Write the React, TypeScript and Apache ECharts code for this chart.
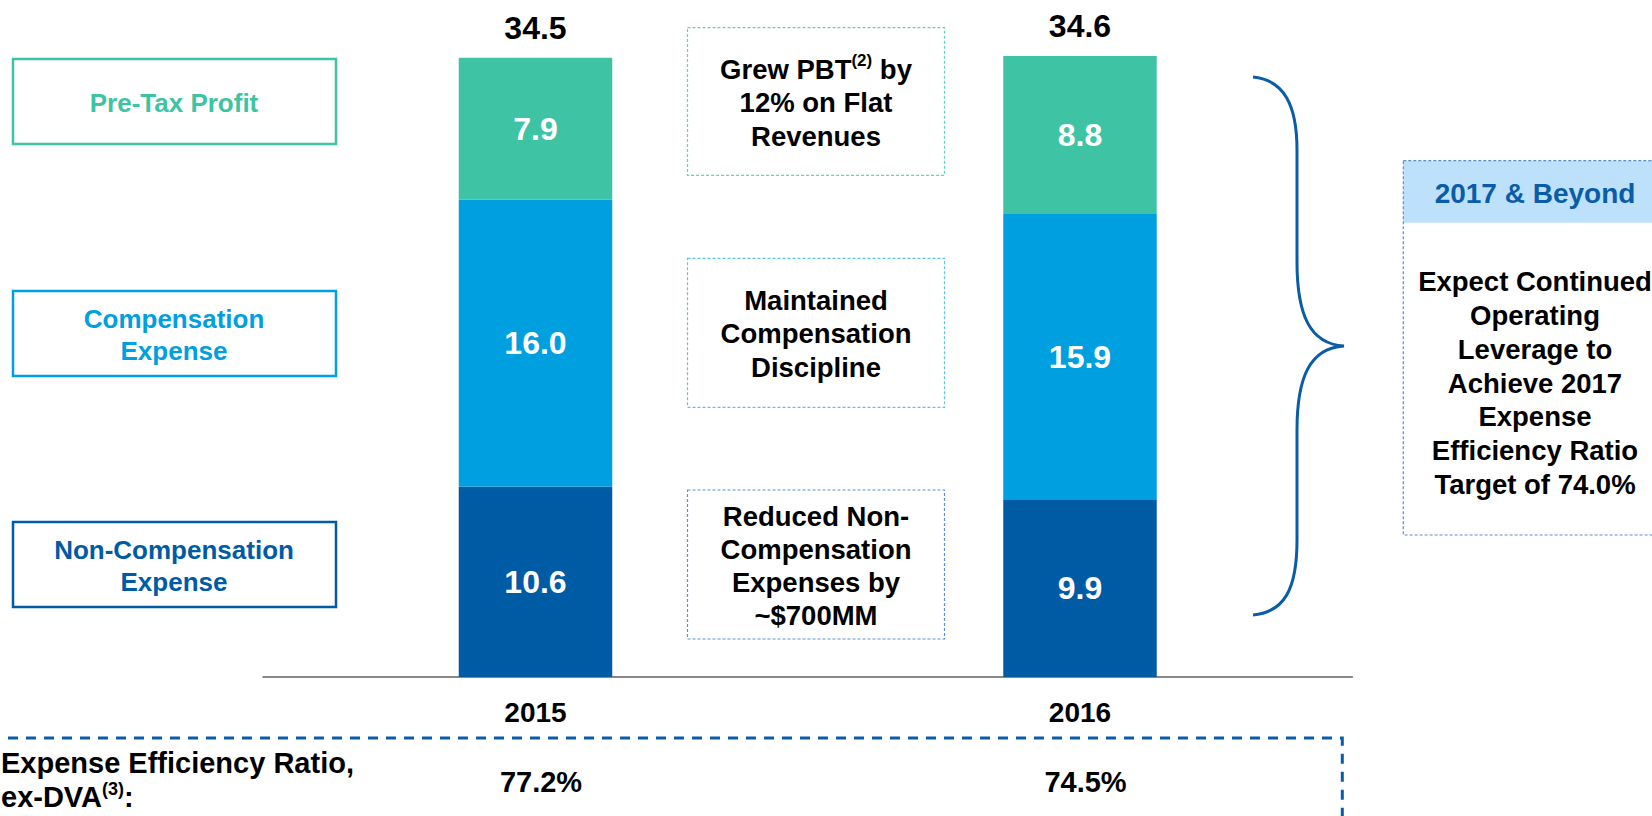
import React, { useEffect, useRef } from "react";
import * as echarts from "echarts";

const categories = ["2015", "2016"];
const nonCompExpense = [10.6, 9.9];
const compExpense = [16.0, 15.9];
const preTaxProfit = [7.9, 8.8];
const totals = [34.5, 34.6];
const efficiencyRatios = ["77.2%", "74.5%"];

const FONT = '"Liberation Sans", Arial, Helvetica, sans-serif';
const GREEN = "#3EC4A4";
const BLUE = "#00A0E0";
const DARK = "#005BA5";

const braceD =
  "M1253,77 C1284,80 1297,105 1297,150 L1297,262 C1297,315 1310,344 1344,346 C1310,348 1297,377 1297,430 L1297,540 C1297,590 1284,612 1253,615";

let registered = false;

export default function App() {
  const ref = useRef<HTMLDivElement>(null);

  useEffect(() => {
    if (!registered) {
      echarts.graphic.registerShape("brace", echarts.graphic.extendPath(braceD, {}));
      registered = true;
    }
    const chart = echarts.init(ref.current!, null, { renderer: "svg" });

    const inLabel = {
      show: true,
      position: "inside",
      color: "#fff",
      fontSize: 32,
      fontWeight: "bold",
      fontFamily: FONT,
      formatter: (p: any) => Number(p.value).toFixed(1),
    };

    const leftBox = (y: number, color: string, text: string) => ({
      type: "group",
      children: [
        {
          type: "rect",
          shape: { x: 13, y, width: 323, height: 85 },
          style: { fill: "#fff", stroke: color, lineWidth: 2.5 },
        },
        {
          type: "text",
          x: 174,
          y: y + 43.5,
          style: {
            text,
            align: "center",
            verticalAlign: "middle",
            fontSize: 26,
            fontWeight: "bold",
            fontFamily: FONT,
            lineHeight: 32,
            fill: color,
          },
        },
      ],
    });

    const midBox = (y: number, h: number, color: string, text: string, lh: number, rich?: any) => ({
      type: "group",
      children: [
        {
          type: "rect",
          shape: { x: 687.5, y, width: 257, height: h },
          style: { fill: "none", stroke: color, lineWidth: 1.2, lineDash: [3, 2] },
        },
        {
          type: "text",
          x: 816,
          y: y + h / 2 + 1,
          style: {
            text,
            align: "center",
            verticalAlign: "middle",
            fontSize: 27.5,
            fontWeight: "bold",
            fontFamily: FONT,
            lineHeight: lh,
            fill: "#000",
            rich,
          },
        },
      ],
    });

    const supStyle = {
      fontSize: 17,
      fontWeight: "bold",
      fontFamily: FONT,
      fill: "#000",
      verticalAlign: "top",
      lineHeight: 26,
    };

    const option: any = {
      animation: false,
      textStyle: { fontFamily: FONT },
      grid: { left: 263.25, width: 1089, top: 30.8, bottom: 139, containLabel: false },
      xAxis: [
        {
          type: "category",
          data: categories,
          axisLine: { lineStyle: { color: "#888", width: 2 } },
          axisTick: { show: false },
          axisLabel: {
            fontSize: 28,
            fontWeight: "bold",
            color: "#000",
            margin: 21,
            lineHeight: 28,
            fontFamily: FONT,
          },
        },
        {
          type: "category",
          data: efficiencyRatios,
          position: "bottom",
          offset: 82,
          axisLine: { show: false },
          axisTick: { show: false },
          axisLabel: {
            fontSize: 29,
            fontWeight: "bold",
            color: "#000",
            margin: 8,
            lineHeight: 29,
            padding: [0, 0, 0, 11],
            fontFamily: FONT,
          },
        },
      ],
      yAxis: { type: "value", min: 0, max: 36, show: false, splitLine: { show: false } },
      series: [
        {
          name: "Non-Compensation Expense",
          type: "bar",
          stack: "total",
          barWidth: 153.5,
          data: nonCompExpense,
          itemStyle: { color: DARK },
          label: inLabel,
        },
        {
          name: "Compensation Expense",
          type: "bar",
          stack: "total",
          barWidth: 153.5,
          data: compExpense,
          itemStyle: { color: BLUE },
          label: inLabel,
        },
        {
          name: "Pre-Tax Profit",
          type: "bar",
          stack: "total",
          barWidth: 153.5,
          data: preTaxProfit,
          itemStyle: { color: GREEN },
          label: inLabel,
        },
        {
          name: "Total",
          type: "bar",
          stack: "total",
          barWidth: 153.5,
          data: totals.map(() => 0),
          itemStyle: { color: "transparent" },
          label: {
            show: true,
            position: "top",
            distance: 14,
            color: "#000",
            fontSize: 32,
            fontWeight: "bold",
            fontFamily: FONT,
            formatter: (p: any) => totals[p.dataIndex].toFixed(1),
          },
        },
      ],
      graphic: [
        leftBox(59, GREEN, "Pre-Tax Profit"),
        leftBox(291, BLUE, "Compensation\nExpense"),
        leftBox(522, DARK, "Non-Compensation\nExpense"),
        midBox(27.7, 147.6, "#5FD3C0", "Grew PBT{sup|(2)} by\n12% on Flat\nRevenues", 33.5, { sup: supStyle }),
        midBox(258.3, 149, "#5CC4EC", "Maintained\nCompensation\nDiscipline", 33.8),
        midBox(490, 149, "#5B8FD0", "Reduced Non-\nCompensation\nExpenses by\n~$700MM", 33),
        {
          type: "brace",
          x: 0,
          y: 0,
          style: { stroke: "#0A5CA8", fill: "none", lineWidth: 3 },
        },
        {
          type: "rect",
          shape: { x: 1403.3, y: 160.7, width: 300, height: 62 },
          style: { fill: "#BDE1FB" },
        },
        {
          type: "rect",
          shape: { x: 1403.3, y: 160.7, width: 300, height: 374.3 },
          style: { fill: "none", stroke: "#5B8FCB", lineWidth: 1.2, lineDash: [3, 2] },
        },
        {
          type: "text",
          x: 1535,
          y: 193,
          style: {
            text: "2017 & Beyond",
            align: "center",
            verticalAlign: "middle",
            fontSize: 28,
            fontWeight: "bold",
            fontFamily: FONT,
            fill: "#0A5CA8",
          },
        },
        {
          type: "text",
          x: 1535,
          y: 383,
          style: {
            text: "Expect Continued\nOperating\nLeverage to\nAchieve 2017\nExpense\nEfficiency Ratio\nTarget of 74.0%",
            align: "center",
            verticalAlign: "middle",
            fontSize: 27.5,
            fontWeight: "bold",
            fontFamily: FONT,
            lineHeight: 33.8,
            fill: "#000",
          },
        },
        {
          type: "polyline",
          shape: { points: [[-10, 738], [1342.3, 738], [1342.3, 830]] },
          style: { stroke: "#0A5CA8", fill: "none", lineWidth: 3, lineDash: [10, 8] },
        },
        {
          type: "text",
          x: 1,
          y: 780,
          style: {
            text: "Expense Efficiency Ratio,\nex-DVA{sup|(3)}:",
            align: "left",
            verticalAlign: "middle",
            fontSize: 29,
            fontWeight: "bold",
            fontFamily: FONT,
            lineHeight: 34,
            fill: "#000",
            rich: { sup: { ...supStyle, fontSize: 18, lineHeight: 30 } },
          },
        },
      ],
    };

    chart.setOption(option);
    return () => chart.dispose();
  }, []);

  return (
    <div
      ref={ref}
      style={{ position: "absolute", left: 0, top: 0, width: 1652, height: 816 }}
    />
  );
}
